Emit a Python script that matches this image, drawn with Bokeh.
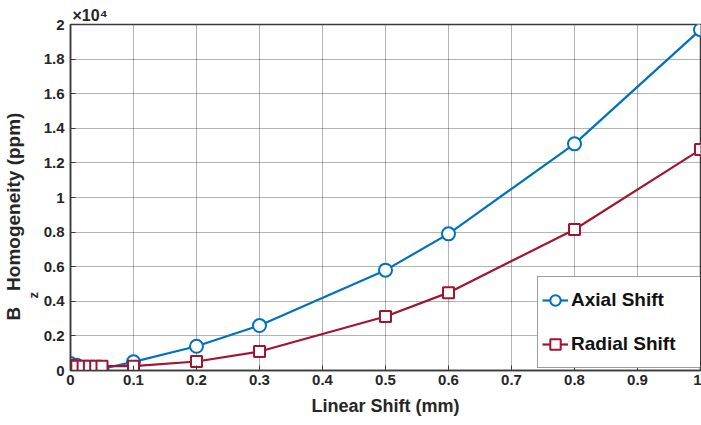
from bokeh.plotting import figure
from bokeh.models import Range1d, FixedTicker, Legend, LegendItem, Title
from bokeh.embed import file_html
from bokeh.resources import INLINE

shift_mm = [0, 0.01, 0.02, 0.03, 0.04, 0.05, 0.1, 0.2, 0.3, 0.5, 0.6, 0.8, 1.0]
axial_ppm = [400, 300, 150, 50, 0, 100, 500, 1400, 2600, 5800, 7900, 13100, 19700]
radial_ppm = [300, 250, 250, 250, 250, 250, 250, 520, 1100, 3120, 4500, 8150, 12770]
x_ticks = [0, 0.1, 0.2, 0.3, 0.4, 0.5, 0.6, 0.7, 0.8, 0.9, 1.0]
x_tick_labels = ["0", "0.1", "0.2", "0.3", "0.4", "0.5", "0.6", "0.7", "0.8", "0.9", "1"]
y_ticks = [0, 2000, 4000, 6000, 8000, 10000, 12000, 14000, 16000, 18000, 20000]
y_tick_labels = ["0", "0.2", "0.4", "0.6", "0.8", "1", "1.2", "1.4", "1.6", "1.8", "2"]

FONT = "Liberation Sans"
BLUE = "#0072BD"
RED = "#A2142F"
TXT = "#262626"

p = figure(frame_width=630, frame_height=346, output_backend="svg", toolbar_location=None,
           min_border_left=70, min_border_right=1, min_border_top=24, min_border_bottom=55,
           x_range=Range1d(0, 1), y_range=Range1d(0, 20000))
p.background_fill_color = "white"
p.border_fill_color = "white"
p.outline_line_color = "#3a3a3a"
p.outline_line_width = 1.5

for ax in (p.xaxis[0], p.yaxis[0]):
    ax.axis_line_color = "#3a3a3a"
    ax.axis_line_width = 1.5
    ax.major_tick_in = 5
    ax.major_tick_out = 0
    ax.major_tick_line_color = "#3a3a3a"
    ax.minor_tick_line_color = None
    ax.major_label_text_font = FONT
    ax.major_label_text_font_style = "bold"
    ax.major_label_text_font_size = "15px"
    ax.major_label_text_color = TXT

p.xaxis.ticker = FixedTicker(ticks=x_ticks)
p.xaxis.major_label_overrides = {t: l for t, l in zip(x_ticks, x_tick_labels)}
p.yaxis.ticker = FixedTicker(ticks=y_ticks)
p.yaxis.major_label_overrides = {t: l for t, l in zip(y_ticks, y_tick_labels)}
p.xaxis.major_label_standoff = 4
p.yaxis.major_label_standoff = 6

p.xaxis.axis_label = "Linear Shift (mm)"
p.xaxis.axis_label_text_font = FONT
p.xaxis.axis_label_text_font_style = "bold"
p.xaxis.axis_label_text_font_size = "18px"
p.xaxis.axis_label_text_color = TXT
p.xaxis.axis_label_standoff = 8

for g in (p.xgrid[0], p.ygrid[0]):
    g.grid_line_color = "#000000"
    g.grid_line_alpha = 0.6
    g.grid_line_dash = "1 1"
    g.grid_line_width = 1

r1 = p.line(shift_mm, axial_ppm, line_color=BLUE, line_width=2.2)
r1m = p.scatter(shift_mm, axial_ppm, marker="circle", size=13, fill_color="white",
                line_color=BLUE, line_width=2)
r2 = p.line(shift_mm, radial_ppm, line_color=RED, line_width=2.2)
r2m = p.scatter(shift_mm, radial_ppm, marker="square", size=11, fill_color="white",
                line_color=RED, line_width=2)

legend = Legend(items=[LegendItem(label="Axial Shift", renderers=[r1, r1m]),
                       LegendItem(label="Radial Shift", renderers=[r2, r2m])],
                location=(467, 2))
legend.label_text_font = FONT
legend.label_text_font_style = "bold"
legend.label_text_font_size = "19px"
legend.label_text_color = "#111111"
legend.border_line_color = "#3a3a3a"
legend.border_line_width = 1.5
legend.background_fill_color = "white"
legend.background_fill_alpha = 1.0
legend.glyph_width = 26
legend.glyph_height = 38
legend.label_height = 38
legend.label_width = 130
legend.spacing = 6
legend.padding = 4
legend.margin = 0
legend.label_standoff = 3
p.add_layout(legend)

# y-axis label: "B" with subscript "z", then "Homogeneity (ppm)"
t_z = Title(text="z", text_font=FONT, text_font_style="bold", text_font_size="13px",
            text_color=TXT, align="left", offset=72, standoff=0)
t_main = Title(text="B\u00a0\u00a0\u00a0Homogeneity (ppm)", text_font=FONT,
               text_font_style="bold", text_font_size="19px", text_color=TXT,
               align="left", offset=50, standoff=0)
p.add_layout(t_z, "left")
p.add_layout(t_main, "left")

# exponent (x10^4)
t_exp = Title(text="×10⁴", text_font=FONT, text_font_style="bold", text_font_size="16px",
              text_color=TXT, align="left", offset=2, standoff=2)
p.add_layout(t_exp, "above")

open("out.html", "w").write(file_html(p, INLINE))
